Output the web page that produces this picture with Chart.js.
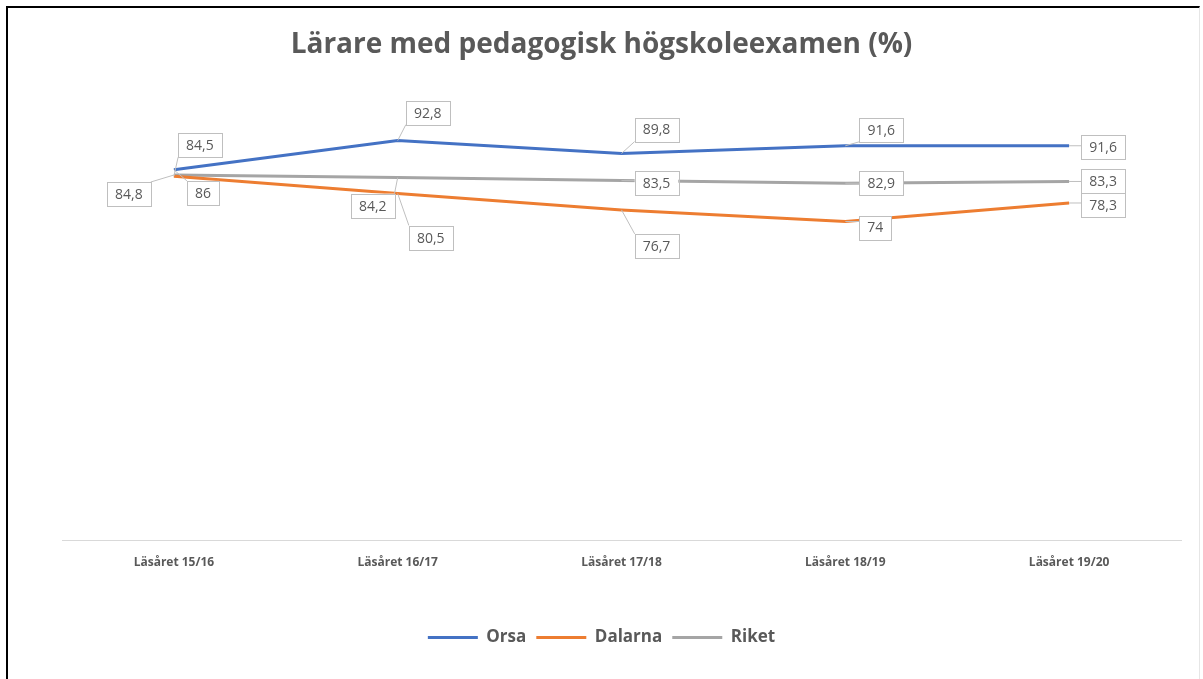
<!DOCTYPE html>
<html>
<head>
<meta charset="utf-8">
<script src="https://cdn.jsdelivr.net/npm/chart.js@4/dist/chart.umd.min.js"></script>
<style>
  html, body { margin: 0; padding: 0; background: #fff; }
  #wrap { position: relative; width: 1203px; height: 679px; }
  #chart { position: absolute; left: 0; top: 0; }
  #frame {
    position: absolute; left: 6px; top: 6px; right: 3px; bottom: -4px;
    border-top: 2px solid #000; border-left: 2px solid #000; border-right: 1px solid #e6e6e6;
    pointer-events: none;
  }
</style>
</head>
<body>
<div id="wrap">
  <canvas id="chart" width="1203" height="679"></canvas>
  <div id="frame"></div>
</div>
<script>
// ── Data ─────────────────────────────────────────────────────────────────
const categories = ["Läsåret 15/16", "Läsåret 16/17", "Läsåret 17/18", "Läsåret 18/19", "Läsåret 19/20"];
const orsaValues = [86, 92.8, 89.8, 91.6, 91.6];
const dalarnaValues = [84.5, 80.5, 76.7, 74, 78.3];
const riketValues = [84.8, 84.2, 83.5, 82.9, 83.3];

// label box offsets from each point (px), per series
const orsaLabelOffsets = [[29, 23], [30, -28], [35, -24], [36, -16], [34, 1]];
const dalarnaLabelOffsets = [[26, -31], [33, 44], [35, 36], [30, 6], [34, 2]];
const riketLabelOffsets = [[-45, 19], [-25, 28], [35, 2], [36, 0], [34, 0]];

const TEXT = "#595959";

const formatValue = (v) => String(v).replace(".", ",");

const calloutPlugin = {
  id: "calloutPlugin",
  afterDatasetsDraw(chart) {
    const { ctx } = chart;
    ctx.save();
    ctx.font = "14px 'Open Sans', sans-serif";
    ctx.textAlign = "center";
    ctx.textBaseline = "middle";
    chart.data.datasets.forEach((dataset, di) => {
      const meta = chart.getDatasetMeta(di);
      const offsets = dataset.labelOffsets || [];
      meta.data.forEach((pt, i) => {
        const label = formatValue(dataset.data[i]);
        const off = offsets[i] || [0, -20];
        const cx = pt.x + off[0];
        const cy = pt.y + off[1];
        const w = ctx.measureText(label).width + 16;
        const h = 24;
        const x0 = cx - w / 2, y0 = cy - h / 2;
        // leader line to nearest point of the box
        const nx = Math.max(x0, Math.min(pt.x, x0 + w));
        const ny = Math.max(y0, Math.min(pt.y, y0 + h));
        if (Math.hypot(nx - pt.x, ny - pt.y) > 3) {
          ctx.strokeStyle = "#bfbfbf";
          ctx.lineWidth = 1;
          ctx.beginPath();
          ctx.moveTo(pt.x, pt.y);
          ctx.lineTo(nx, ny);
          ctx.stroke();
        }
        ctx.fillStyle = "#fff";
        ctx.fillRect(x0, y0, w, h);
        ctx.strokeStyle = "#bfbfbf";
        ctx.lineWidth = 1;
        ctx.strokeRect(Math.round(x0) + 0.5, Math.round(y0) + 0.5, Math.round(w), h);
        ctx.fillStyle = TEXT;
        ctx.fillText(label, cx, cy + 1);
      });
    });
    ctx.restore();
  },
};

const mkSeries = (label, data, color, offsets) => ({
  label,
  data,
  borderColor: color,
  backgroundColor: color,
  borderWidth: 3,
  pointRadius: 0,
  pointHoverRadius: 0,
  tension: 0,
  fill: false,
  labelOffsets: offsets,
});

new Chart(document.getElementById("chart"), {
  type: "line",
  data: {
    labels: categories,
    datasets: [
      mkSeries("Orsa", orsaValues, "#4472C4", orsaLabelOffsets),
      mkSeries("Dalarna", dalarnaValues, "#ED7D31", dalarnaLabelOffsets),
      mkSeries("Riket", riketValues, "#A5A5A5", riketLabelOffsets),
    ],
  },
  options: {
    responsive: false,
    animation: false,
    layout: { padding: { left: 22, right: 22, top: 0, bottom: 23 } },
    plugins: {
      title: {
        display: true,
        text: "Lärare med pedagogisk högskoleexamen (%)",
        color: TEXT,
        font: { family: "'Open Sans', sans-serif", size: 28, weight: "bold" },
        padding: { top: 28, bottom: 48 },
      },
      legend: {
        position: "bottom",
        labels: {
          color: TEXT,
          font: { family: "'Open Sans', sans-serif", size: 17, weight: "bold" },
          usePointStyle: true,
          pointStyle: "line",
          pointStyleWidth: 50,
          padding: 10,
        },
      },
      tooltip: { enabled: false },
    },
    scales: {
      x: {
        offset: true,
        grid: { display: false, drawTicks: false },
        border: { display: true, color: "#d9d9d9", width: 1 },
        ticks: {
          color: TEXT,
          padding: 15,
          maxRotation: 0,
          font: { family: "'Open Sans', sans-serif", size: 12, weight: "bold" },
        },
        afterFit(scale) { scale.height = 79; },
      },
      y: {
        display: true,
        min: 0,
        max: 100,
        grid: { display: false, drawTicks: false },
        border: { display: false },
        ticks: { display: false },
        afterFit(scale) { scale.width = 40; },
      },
    },
  },
  plugins: [calloutPlugin],
});
</script>
</body>
</html>
